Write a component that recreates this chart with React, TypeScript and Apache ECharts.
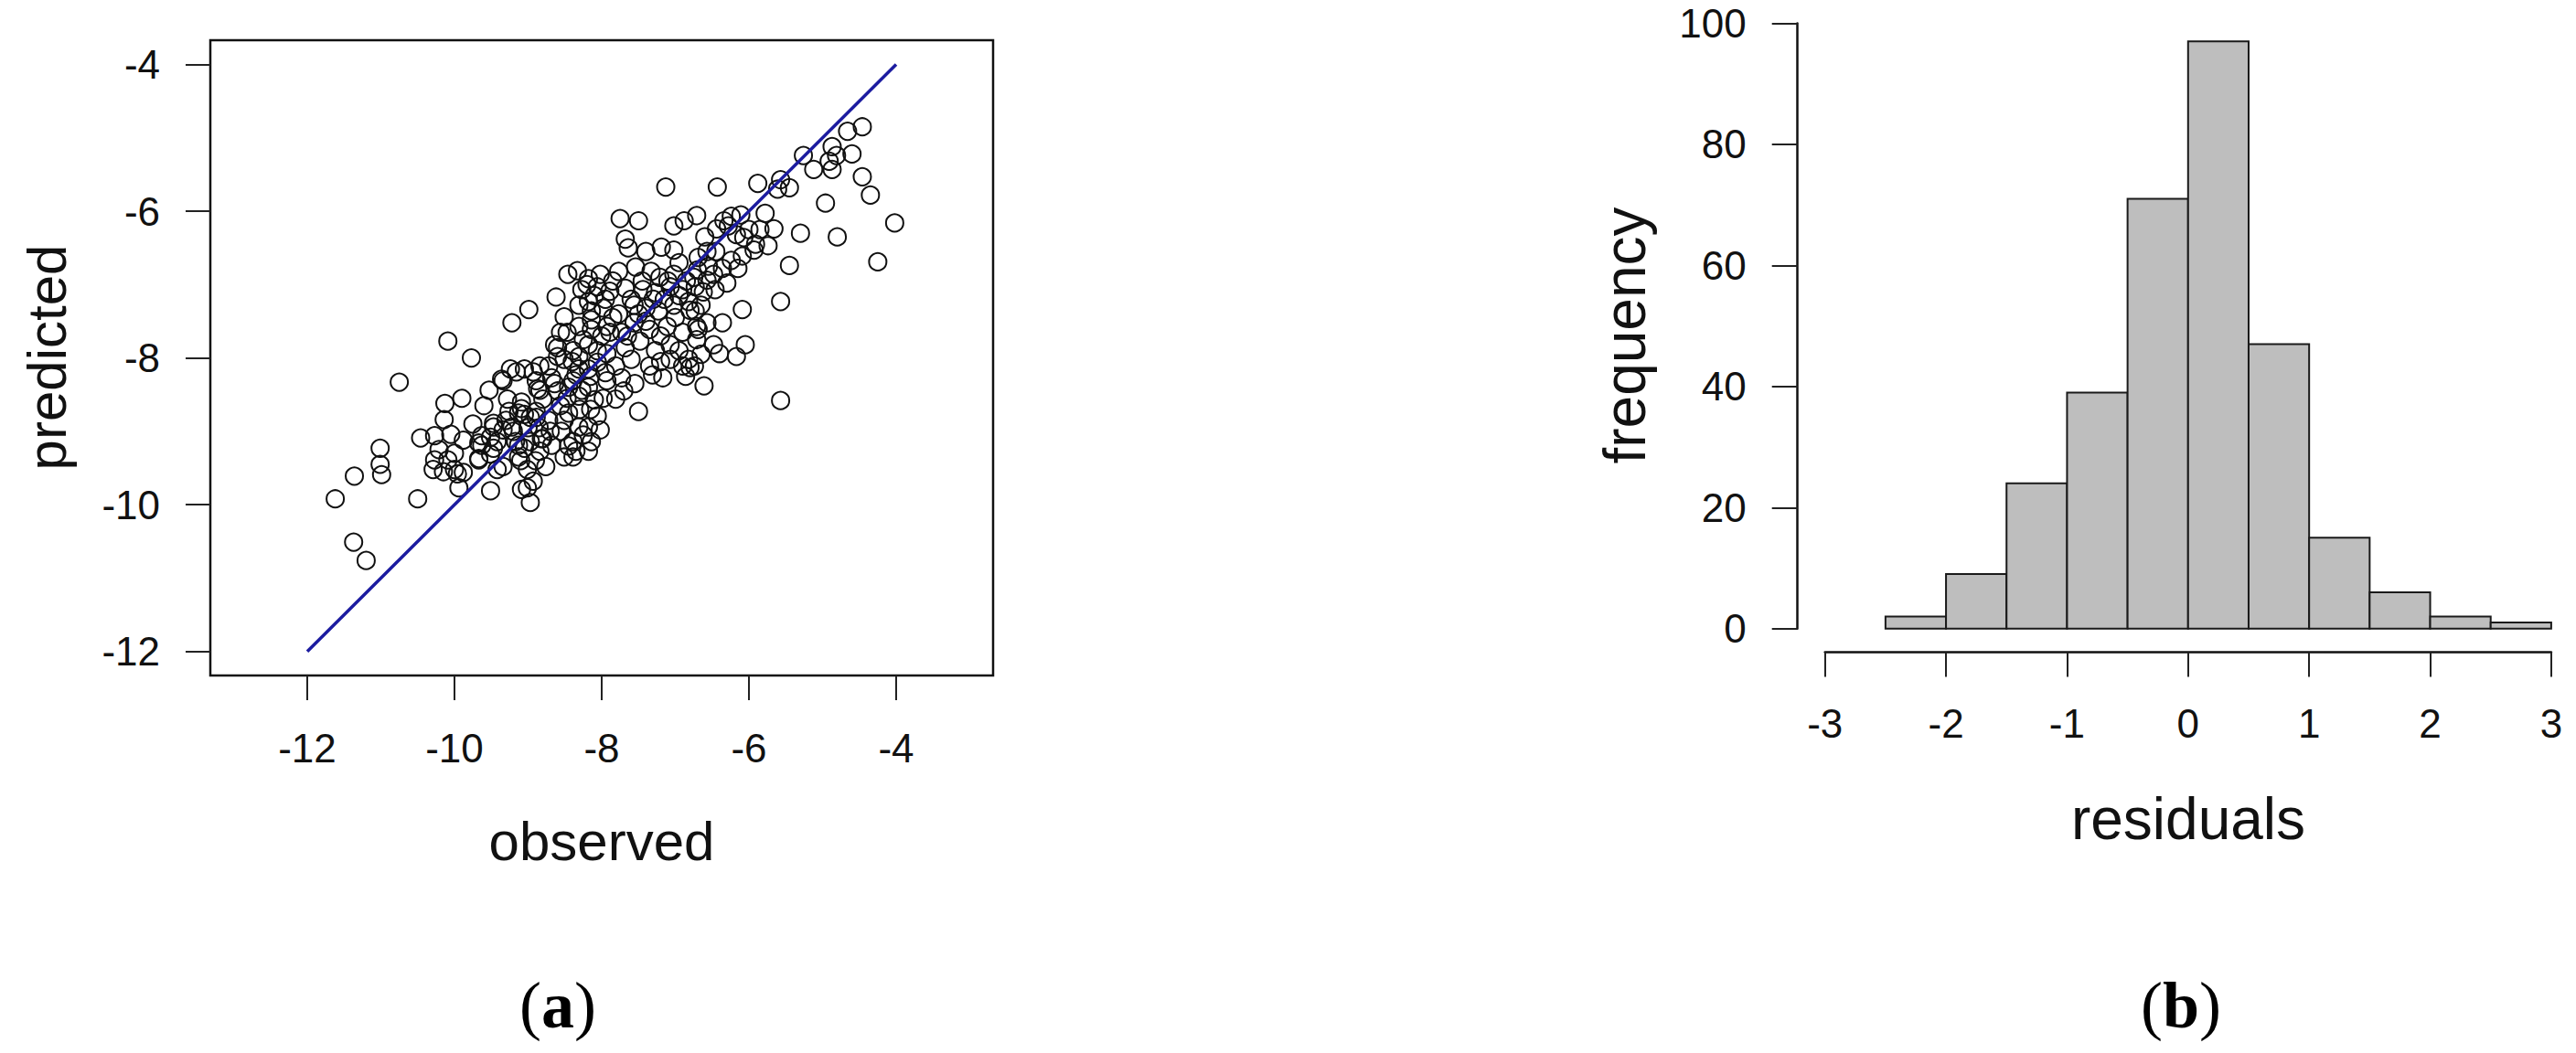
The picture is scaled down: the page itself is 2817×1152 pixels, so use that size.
import React, { useEffect, useRef } from "react";
import * as echarts from "echarts";

// (a) observed vs predicted
const points: [number, number][] = [
  [-11.62, -9.92], [-11.36, -9.61], [-11.37, -10.51], [-11.2, -10.76], [-11.01, -9.23], [-11.01, -9.45],
  [-10.99, -9.59], [-10.75, -8.33], [-10.5, -9.92], [-10.09, -7.77], [-9.77, -8.0], [-9.22, -7.52],
  [-8.99, -7.34], [-10.13, -8.62], [-9.9, -8.55], [-10.14, -8.84], [-10.46, -9.09], [-10.27, -9.06],
  [-10.05, -9.04], [-9.88, -9.12], [-10.21, -9.25], [-10.27, -9.39], [-10.29, -9.52], [-10.09, -9.39],
  [-10.0, -9.52], [-9.96, -9.58], [-9.88, -9.56], [-9.94, -9.77], [-9.67, -9.16], [-9.67, -9.37],
  [-9.53, -8.44], [-9.36, -8.29], [-9.24, -8.15], [-9.05, -8.15], [-9.28, -8.56], [-8.84, -8.11],
  [-8.87, -8.42], [-9.51, -9.08], [-9.34, -8.98], [-9.47, -9.23], [-9.42, -9.52], [-9.51, -9.81],
  [-9.13, -9.19], [-9.01, -9.52], [-8.93, -9.68], [-9.09, -9.79], [-8.97, -9.97], [-9.13, -8.75],
  [-8.89, -8.81], [-8.82, -9.1],
  [-8.62, -7.17], [-8.46, -6.86], [-8.33, -6.81], [-8.02, -6.86], [-8.27, -7.07], [-8.18, -7.23],
  [-8.51, -7.44], [-8.47, -7.65], [-8.6, -7.86], [-8.6, -7.98], [-8.31, -7.57], [-8.14, -7.48],
  [-7.98, -7.32], [-8.93, -8.19], [-9.16, -8.19], [-9.34, -8.31],
  [-8.84, -8.44], [-8.68, -8.27], [-9.09, -8.6], [-9.26, -8.73], [-9.05, -8.77], [-8.89, -8.73],
  [-8.72, -8.85], [-8.47, -8.55], [-8.27, -8.44], [-8.1, -8.57], [-8.06, -8.79], [-8.18, -8.94],
  [-8.39, -9.14], [-8.39, -9.35], [-8.68, -9.19], [-8.84, -9.27], [-8.97, -9.14], [-9.47, -8.94],
  [-9.42, -9.14], [-9.63, -9.19], [-9.67, -9.39], [-9.51, -9.31], [-9.34, -9.48], [-9.13, -9.35],
  [-9.17, -9.14], [-9.01, -9.77], [-8.76, -9.48], [-8.51, -9.35], [-8.18, -9.27], [-8.02, -8.98],
  [-7.98, -8.55], [-7.93, -8.31], [-8.18, -8.15], [-8.35, -8.23], [-8.31, -7.98], [-8.06, -7.9],
  [-7.89, -7.65],
  [-7.13, -5.67], [-6.43, -5.67], [-5.88, -5.62], [-7.75, -6.1], [-7.5, -6.13], [-7.68, -6.38],
  [-7.64, -6.5], [-7.02, -6.2], [-6.88, -6.13], [-6.71, -6.06], [-7.19, -6.49], [-7.02, -6.53],
  [-6.34, -6.13], [-6.24, -6.07], [-6.17, -6.32], [-5.78, -6.03], [-5.74, -6.47], [-5.93, -6.53],
  [-6.09, -6.61], [-6.24, -6.67], [-6.36, -6.78], [-6.48, -6.86], [-6.57, -6.55], [-6.69, -6.63],
  [-6.09, -7.34], [-6.36, -7.52], [-6.05, -7.82], [-6.17, -7.98], [-6.4, -7.94], [-6.61, -8.38],
  [-6.8, -8.13], [-6.86, -8.25], [-7.17, -8.27], [-7.5, -8.73],
  [-4.46, -4.85], [-4.66, -4.91], [-4.87, -5.12], [-4.81, -5.24], [-4.6, -5.22], [-4.91, -5.32],
  [-4.87, -5.43], [-5.12, -5.43], [-5.26, -5.24], [-4.46, -5.53], [-4.35, -5.78], [-4.96, -5.89],
  [-4.02, -6.16], [-4.8, -6.35], [-4.25, -6.69], [-5.45, -5.68], [-5.57, -5.57], [-5.61, -5.7],
  [-5.3, -6.3], [-5.45, -6.74], [-5.57, -7.23], [-5.57, -8.58], [-6.11, -6.05], [-5.66, -6.24],
  [-6.3, -6.98], [-6.46, -7.07], [-6.71, -7.75], [-6.71, -7.57], [-6.74, -8.11], [-6.44, -6.24],
  [-8.18, -6.92], [-7.77, -6.82], [-7.54, -6.76], [-7.33, -6.82], [-7.21, -6.9], [-7.02, -6.86],
  [-8.06, -7.03], [-7.89, -7.09], [-7.68, -7.05], [-7.44, -7.07], [-7.27, -7.11], [-7.07, -7.03],
  [-6.9, -7.07], [-6.73, -7.03], [-6.57, -6.94],
  [-8.31, -7.28], [-8.14, -7.36], [-7.77, -7.4], [-7.56, -7.28], [-7.4, -7.32], [-7.23, -7.36],
  [-7.02, -7.28], [-6.82, -7.23], [-6.65, -7.28],
  [-8.56, -7.65], [-8.14, -7.61], [-7.93, -7.57], [-7.73, -7.65], [-7.56, -7.52], [-7.35, -7.61],
  [-7.11, -7.57], [-6.9, -7.65], [-6.69, -7.61],
  [-8.64, -7.82], [-8.39, -7.9], [-8.18, -7.82], [-7.93, -7.94], [-7.68, -7.86], [-7.48, -7.77],
  [-7.27, -7.9], [-7.07, -7.82],
  [-8.72, -8.11], [-8.51, -8.02], [-8.31, -8.15], [-8.06, -8.06], [-7.81, -8.11], [-7.6, -8.02],
  [-7.35, -8.11], [-7.07, -8.02], [-6.9, -8.11],
  [-8.89, -8.31], [-8.64, -8.35], [-8.39, -8.31], [-8.18, -8.4], [-7.73, -8.27], [-7.31, -8.23],
  [-8.8, -8.56], [-8.56, -8.65], [-8.31, -8.52], [-7.81, -8.56], [-9.09, -8.69],
  [-9.47, -8.89], [-9.22, -8.94], [-8.97, -8.81], [-8.51, -8.85], [-8.31, -8.94], [-9.63, -9.06],
  [-9.05, -9.23], [-8.8, -9.1], [-8.35, -9.27], [-8.14, -9.14],
  [-6.28, -6.2], [-6.07, -6.36], [-5.91, -6.45], [-6.15, -6.78],
  [-6.73, -7.36], [-6.57, -7.52], [-6.48, -7.82], [-6.82, -8.02],
  [-8.2, -7.0], [-8.1, -7.15], [-7.95, -7.2], [-7.85, -6.95], [-7.6, -7.2], [-7.5, -7.4],
  [-7.45, -6.95], [-7.3, -7.2], [-7.15, -7.2], [-7.1, -6.95], [-6.95, -7.15], [-6.85, -6.95],
  [-6.8, -7.35], [-6.75, -6.9], [-6.62, -7.1], [-6.55, -6.75], [-6.95, -6.7], [-7.4, -7.5],
  [-7.2, -7.7], [-7.0, -7.45], [-7.65, -7.7], [-7.85, -7.45], [-8.0, -7.7], [-8.25, -7.75],
  [-8.4, -8.05], [-8.15, -8.25], [-7.95, -8.2], [-8.45, -8.4], [-8.3, -8.7], [-8.15, -8.7],
  [-8.45, -8.75], [-8.6, -8.45], [-8.7, -9.0], [-8.55, -9.0], [-8.25, -9.05], [-8.45, -9.2],
  [-8.85, -8.95], [-9.0, -8.95], [-9.2, -9.0], [-9.3, -8.85], [-9.1, -9.4], [-8.9, -9.4],
  [-9.6, -8.65], [-9.75, -8.9], [-10.0, -9.3], [-10.15, -9.55], [-7.55, -8.35], [-7.7, -8.45],
  [-7.2, -8.05], [-6.65, -7.95], [-6.95, -7.9], [-7.4, -6.55], [-6.6, -6.35], [-6.45, -6.55],
  [-6.0, -6.25], [-5.85, -6.25], [-6.7, -6.8],
];

// 1:1 reference line
const lineObserved = [-12, -4];
const linePredicted = [-12, -4];

// scatter axis ticks
const scatterTickMin = -12;
const scatterTickMax = -4;
const scatterTickStep = 2;

// (b) histogram of residuals
const binStarts = [-2.5, -2, -1.5, -1, -0.5, 0, 0.5, 1, 1.5, 2, 2.5];
const binWidth = 0.5;
const counts = [2, 9, 24, 39, 71, 97, 47, 15, 6, 2, 1];
const residualTickMin = -3;
const residualTickMax = 3;
const residualTickStep = 1;
const frequencyTickMin = 0;
const frequencyTickMax = 100;
const frequencyTickStep = 20;

export default function App() {
  const ref = useRef<HTMLDivElement>(null);

  useEffect(() => {
    document.body.style.margin = "0";
    const chart = echarts.init(ref.current!, null, { renderer: "svg" });
    const sans = "'Liberation Sans', Arial, sans-serif";
    const serif = "'Liberation Serif', 'Times New Roman', serif";
    const label = { fontSize: 44, color: "#111", fontFamily: sans };
    const tick = { show: true, length: 27, lineStyle: { color: "#222", width: 2 } };

    const option: any = {
      animation: false,
      backgroundColor: "#ffffff",
      grid: [
        { left: 230, top: 44, width: 856, height: 695, show: true, borderColor: "#111", borderWidth: 2.5, backgroundColor: "transparent" },
        { left: 336, top: 70.5, width: 644, height: 642.2 },
        { left: 1995.7, top: 25.5, width: 794.2, height: 662.2 },
      ],
      xAxis: [
        { gridIndex: 0, type: "value", show: false, min: 0, max: 1 },
        {
          gridIndex: 1, type: "value", min: scatterTickMin, max: scatterTickMax, interval: scatterTickStep,
          position: "bottom", offset: 26.3, axisLine: { show: false, onZero: false }, axisTick: tick,
          axisLabel: { ...label, margin: 57 }, splitLine: { show: false },
        },
        {
          gridIndex: 2, type: "value", min: residualTickMin, max: residualTickMax, interval: residualTickStep,
          position: "bottom", offset: 25.7,
          axisLine: { show: true, onZero: false, lineStyle: { color: "#111", width: 2.5 } }, axisTick: tick,
          axisLabel: { ...label, margin: 56 }, splitLine: { show: false },
        },
      ],
      yAxis: [
        { gridIndex: 0, type: "value", show: false, min: 0, max: 1 },
        {
          gridIndex: 1, type: "value", min: scatterTickMin, max: scatterTickMax, interval: scatterTickStep,
          position: "left", offset: 106, axisLine: { show: false, onZero: false }, axisTick: tick,
          axisLabel: { ...label, margin: 55 }, splitLine: { show: false },
        },
        {
          gridIndex: 2, type: "value", min: frequencyTickMin, max: frequencyTickMax, interval: frequencyTickStep,
          position: "left", offset: 30,
          axisLine: { show: true, onZero: false, lineStyle: { color: "#111", width: 2.5 } },
          axisTick: { ...tick, length: 28 },
          axisLabel: { ...label, margin: 56 }, splitLine: { show: false },
        },
      ],
      series: [
        {
          type: "scatter", xAxisIndex: 1, yAxisIndex: 1, data: points, symbol: "circle", symbolSize: 19,
          clip: false,
          itemStyle: { color: "rgba(0,0,0,0)", borderColor: "#111", borderWidth: 2, opacity: 1 },
          z: 2,
        },
        {
          type: "line", xAxisIndex: 1, yAxisIndex: 1, symbol: "none",
          data: lineObserved.map((x, i) => [x, linePredicted[i]]),
          lineStyle: { color: "#1c1ca0", width: 3.5 }, z: 3,
        },
        {
          type: "custom", xAxisIndex: 2, yAxisIndex: 2,
          data: binStarts.map((s, i) => [s, s + binWidth, counts[i]]),
          encode: { x: [0, 1], y: 2 },
          renderItem: (params: any, api: any) => {
            const p0 = api.coord([api.value(0), api.value(2)]);
            const p1 = api.coord([api.value(1), 0]);
            return {
              type: "rect",
              shape: { x: p0[0], y: p0[1], width: p1[0] - p0[0], height: p1[1] - p0[1] },
              style: { fill: "#bebebe", stroke: "#1a1a1a", lineWidth: 2 },
            };
          },
        },
      ],
      graphic: [
        { type: "text", x: 658, y: 920, style: { text: "observed", font: `60px ${sans}`, fill: "#111", textAlign: "center", textVerticalAlign: "middle" } },
        { type: "text", x: 51, y: 391, rotation: Math.PI / 2, style: { text: "predicted", font: `60px ${sans}`, fill: "#111", textAlign: "center", textVerticalAlign: "middle" } },
        { type: "text", x: 2393, y: 896, style: { text: "residuals", font: `64px ${sans}`, fill: "#111", textAlign: "center", textVerticalAlign: "middle" } },
        { type: "text", x: 1777, y: 367, rotation: Math.PI / 2, style: { text: "frequency", font: `64px ${sans}`, fill: "#111", textAlign: "center", textVerticalAlign: "middle" } },
        {
          type: "text", x: 610, y: 1100,
          style: {
            text: "{p|(}{b|a}{p|)}", textAlign: "center", textVerticalAlign: "middle",
            rich: {
              p: { fontSize: 72, fontFamily: serif, fill: "#000", color: "#000" },
              b: { fontSize: 72, fontFamily: serif, fontWeight: "bold", fill: "#000", color: "#000" },
            },
          },
        },
        {
          type: "text", x: 2385, y: 1100,
          style: {
            text: "{p|(}{b|b}{p|)}", textAlign: "center", textVerticalAlign: "middle",
            rich: {
              p: { fontSize: 72, fontFamily: serif, fill: "#000", color: "#000" },
              b: { fontSize: 72, fontFamily: serif, fontWeight: "bold", fill: "#000", color: "#000" },
            },
          },
        },
      ],
    };

    chart.setOption(option);
    return () => chart.dispose();
  }, []);

  return <div ref={ref} style={{ width: 2817, height: 1152 }} />;
}
